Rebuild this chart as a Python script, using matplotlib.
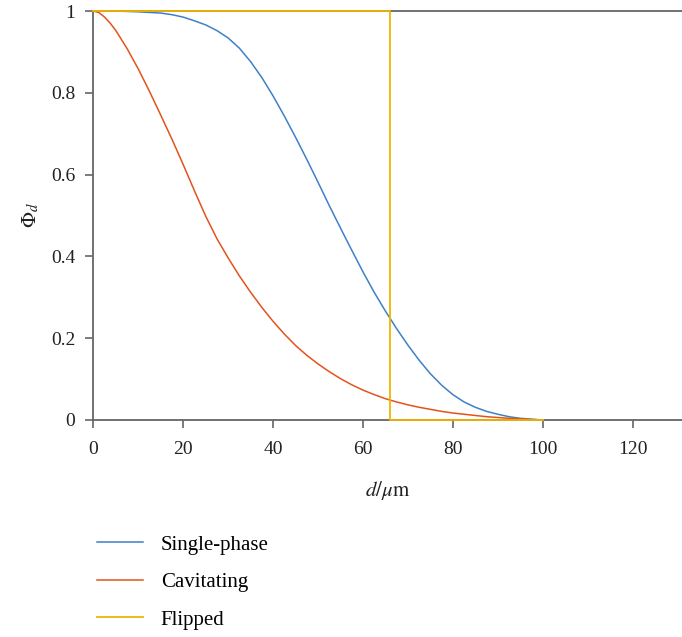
import matplotlib
matplotlib.use("Agg")
import matplotlib.pyplot as plt

plt.rcParams['font.family'] = ['Liberation Serif', 'DejaVu Serif']
plt.rcParams['mathtext.fontset'] = 'stix'

# diameter d (um) and fraction Phi_d for each case
d_single = [0, 5, 10, 15, 17.5, 20, 22.5, 25, 27.5, 30, 32.5, 35, 37.5, 40, 42.5, 45, 47.5,
            50, 52.5, 55, 57.5, 60, 62.5, 65, 66, 67.5, 70, 72.5, 75, 77.5, 80, 82.5, 85,
            87.5, 90, 92.5, 95, 97.5, 100]
phi_single = [1.000, 1.000, 0.998, 0.995, 0.991, 0.985, 0.976, 0.966, 0.952, 0.934, 0.909,
              0.876, 0.837, 0.792, 0.743, 0.691, 0.637, 0.581, 0.524, 0.469, 0.415, 0.362,
              0.312, 0.266, 0.249, 0.223, 0.183, 0.146, 0.113, 0.085, 0.062, 0.044, 0.031,
              0.021, 0.014, 0.008, 0.004, 0.002, 0.000]

d_cav = [0, 1.25, 2.5, 3.75, 5, 7.5, 10, 12.5, 15, 17.5, 20, 22.5, 25, 27.5, 30, 32.5, 35,
         37.5, 40, 42.5, 45, 47.5, 50, 52.5, 55, 57.5, 60, 62.5, 65, 67.5, 70, 72.5, 75,
         77.5, 80, 82.5, 85, 87.5, 90, 92.5, 95, 97.5, 100]
phi_cav = [1.000, 0.996, 0.985, 0.970, 0.952, 0.908, 0.858, 0.803, 0.745, 0.686, 0.624,
           0.560, 0.498, 0.443, 0.396, 0.352, 0.312, 0.275, 0.241, 0.210, 0.182, 0.158,
           0.137, 0.118, 0.101, 0.086, 0.073, 0.062, 0.052, 0.044, 0.037, 0.031, 0.026,
           0.021, 0.017, 0.014, 0.011, 0.008, 0.006, 0.004, 0.003, 0.001, 0.000]

d_flip = [0, 66, 66, 100]
phi_flip = [1, 1, 0, 0]

labels = ["Single-phase", "Cavitating", "Flipped"]
colors = ["#3f80c8", "#e2531d", "#f0b400"]

fig = plt.figure(figsize=(6.82, 6.37), dpi=100)
ax = fig.add_axes([0.137, 0.3407, 0.863, 0.642])

ax.plot(d_single, phi_single, color=colors[0], lw=1.1, label=labels[0])
ax.plot(d_cav, phi_cav, color=colors[1], lw=1.1, label=labels[1])
ax.plot(d_flip, phi_flip, color=colors[2], lw=1.3, label=labels[2], clip_on=False, zorder=3)

ax.set_xlim(0, 131)
ax.set_ylim(0, 1)
ax.set_xticks([0, 20, 40, 60, 80, 100, 120])
ax.set_yticks([0, 0.2, 0.4, 0.6, 0.8, 1])
ax.set_yticklabels(["0", "0.2", "0.4", "0.6", "0.8", "1"])

for s in ["left", "bottom", "top"]:
    ax.spines[s].set_color("#666666")
    ax.spines[s].set_linewidth(1.3)
ax.spines["right"].set_visible(False)
ax.tick_params(direction="out", length=6, width=1.2, color="#666666",
               labelsize=14, labelcolor="#222222")
ax.tick_params(axis="y", pad=7)
ax.tick_params(axis="x", pad=9)

ax.set_xlabel(r"$d/\mu\mathrm{m}$", fontsize=15, labelpad=15, color="#222222")
ax.set_ylabel(r"$\Phi_d$", fontsize=15, labelpad=7, color="#222222")

handles, _ = ax.get_legend_handles_labels()
fig.legend(handles, labels, loc="upper left", bbox_to_anchor=(0.115, 0.1894),
           bbox_transform=fig.transFigure, frameon=False, fontsize=15,
           handlelength=2.2, handletextpad=0.85, labelspacing=0.86)

fig.savefig("out.png", dpi=100)
